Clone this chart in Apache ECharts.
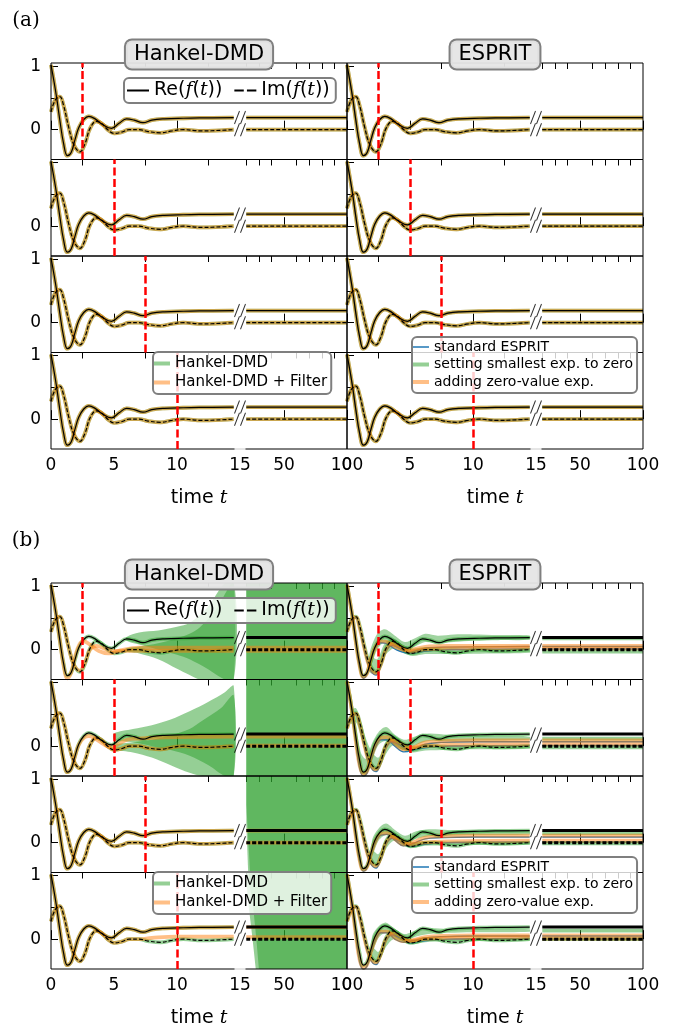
<!DOCTYPE html>
<html><head><meta charset="utf-8">
<script src="https://cdn.jsdelivr.net/npm/echarts@6/dist/echarts.min.js"></script>
<style>html,body{margin:0;padding:0;background:#fff}#c{width:676px;height:1027px}</style>
</head><body><div id="c"></div>
<script>
// ---------------- data ----------------
const Y_MIN = -0.47, Y_MAX = 1.05;
const X_LEFT_MAJOR = [0, 5, 10], X_LEFT_LABELS = [0, 5, 10, 15], X_LEFT_MINOR = [2.5, 7.5, 12.5];
const X_RIGHT_MAJOR = [50, 100], X_RIGHT_LABELS = [50, 100], X_RIGHT_MINOR = [20, 30, 40, 60, 70, 80, 90];
const Y_TICKS = [0, 0.5, 1];
const RED_T = [2.5, 5, 7.5, 10];
const T_RIGHT = [20, 100];

// exact f(t)
const RE = [[0,1.02],[0.2,0.8],[0.45,0.5],[0.7,0.15],[1.0,-0.22],[1.3,-0.41],[1.6,-0.36],[1.9,-0.16],[2.2,0.03],[2.6,0.16],[3.0,0.21],[3.5,0.17],[4.1,0.08],[4.8,0.02],[5.4,0.1],[6.0,0.17],[6.6,0.15],[7.3,0.11],[8.0,0.15],[9.0,0.17],[10.5,0.18],[12,0.185],[14.5,0.19]];
const IM = [[0,0.28],[0.35,0.47],[0.7,0.52],[1.0,0.38],[1.4,0.04],[1.8,-0.23],[2.3,-0.35],[2.7,-0.22],[3.1,0.02],[3.6,0.13],[4.0,0.1],[4.5,0.0],[5.0,-0.06],[5.6,-0.04],[6.2,0.0],[7.0,0.0],[7.7,-0.03],[8.7,-0.05],[9.6,-0.02],[10.5,0.0],[12,-0.02],[13.5,-0.01],[14.5,0.0]];
const RE_INF = 0.19, IM_INF = 0.0;

// (b) Hankel-DMD: envelopes of the diverging unfiltered reconstruction [t, low, high]
const BH_RE_BAND_1 = [[6,0.14,0.2],[7,0.08,0.27],[8.5,0.0,0.3],[10,-0.08,0.36],[11,-0.15,0.42],[12.4,-0.3,0.66],[13.8,-0.6,1.1],[14.5,-0.6,1.1]];
const BH_IM_BAND_1 = [[6,-0.03,0.02],[7,-0.06,0.05],[8.5,-0.15,0.1],[10,-0.3,0.18],[11,-0.4,0.25],[11.8,-0.6,0.35],[13,-0.6,0.6],[14.5,-0.6,1.1]];
const BH_RE_BAND_2 = [[5,0.1,0.2],[6.5,0.06,0.27],[8,0.0,0.33],[9.5,-0.06,0.42],[11,-0.15,0.55],[12.5,-0.3,0.7],[13.8,-0.47,0.85],[14.5,-0.6,0.95]];
const BH_IM_BAND_2 = [[5,-0.05,0.02],[6.5,-0.1,0.06],[8,-0.18,0.1],[9.5,-0.3,0.17],[11,-0.42,0.27],[12,-0.6,0.4],[13.5,-0.6,0.6],[14.5,-0.6,0.8]];
const BH_FULL_R = [[20,-0.6,1.1],[100,-0.6,1.1]];
const BH_RE_BAND_R3 = [[20,0.3,1.1],[21.5,-0.6,1.1],[100,-0.6,1.1]];
const BH_IM_BAND_R3 = [[20,0.6,1.1],[23,-0.6,1.1],[100,-0.6,1.1]];
const BH_RE_BAND_R4 = [[20,0.9,1.1],[22,0.5,1.1],[25,0.0,1.1],[27.5,-0.6,1.1],[100,-0.6,1.1]];
const BH_IM_BAND_R4 = [[22,0.9,1.1],[25,0.6,1.1],[28,0.0,1.1],[30,-0.6,1.1],[100,-0.6,1.1]];
// (b) Hankel-DMD + Filter
const BH_OR_RE_1 = [[0,1.02],[0.2,0.8],[0.45,0.5],[0.7,0.15],[1.0,-0.25],[1.3,-0.45],[1.6,-0.36],[1.9,-0.12],[2.25,0.08],[2.6,0.13],[3.1,0.08],[3.8,-0.02],[4.6,-0.06],[5.5,-0.01],[7,0.03],[14.5,0.03]];
const BH_OR_IM_1 = [[0,0.28],[0.35,0.47],[0.7,0.52],[1.0,0.38],[1.4,0.04],[1.8,-0.23],[2.3,-0.33],[2.7,-0.2],[3.1,0.0],[3.6,0.06],[4.2,0.02],[5,-0.02],[7,-0.02],[14.5,-0.02]];
const BH_OR_RE_2 = [[0,1.02],[0.2,0.8],[0.45,0.5],[0.7,0.15],[1.0,-0.22],[1.3,-0.41],[1.6,-0.36],[1.9,-0.16],[2.2,0.02],[2.6,0.13],[3.0,0.16],[3.5,0.12],[4.1,0.04],[4.8,-0.02],[5.4,0.04],[6.0,0.1],[7,0.12],[9,0.14],[14.5,0.15]];
const BH_OR_IM_4 = [[0,0.28],[0.35,0.47],[0.7,0.52],[1.0,0.38],[1.4,0.04],[1.8,-0.23],[2.3,-0.35],[2.7,-0.22],[3.1,0.02],[3.6,0.13],[4.0,0.1],[4.5,0.0],[5.0,-0.06],[5.6,-0.04],[6.2,0.0],[7.0,0.0],[8,0.02],[10,0.04],[14.5,0.04]];
const BH_OR_INF_RE = [0.03, 0.15, 0.19, 0.19];
const BH_OR_INF_IM = [-0.02, 0.01, 0.0, 0.03];

// (b) ESPRIT variants
const BE_BLUE_RE_1 = [[0,1.02],[0.2,0.8],[0.45,0.48],[0.7,0.1],[1.0,-0.28],[1.3,-0.45],[1.6,-0.38],[1.9,-0.15],[2.3,0.05],[2.7,0.11],[3.2,0.09],[3.9,0.0],[4.8,-0.05],[5.6,-0.01],[6.5,0.03],[8,0.04],[14.5,0.05]];
const BE_OR_RE_1 = [[0,1.02],[0.2,0.8],[0.45,0.49],[0.7,0.12],[1.0,-0.25],[1.3,-0.43],[1.6,-0.37],[1.9,-0.14],[2.3,0.06],[2.7,0.13],[3.2,0.12],[3.9,0.04],[4.8,-0.01],[5.6,0.02],[6.5,0.05],[8,0.06],[14.5,0.06]];
const BE_BLUE_RE_2 = [[0,1.02],[0.2,0.78],[0.45,0.45],[0.7,0.05],[1.0,-0.35],[1.3,-0.47],[1.6,-0.42],[1.9,-0.22],[2.3,0.0],[2.7,0.1],[3.2,0.1],[3.8,0.0],[4.5,-0.09],[5.3,-0.05],[6.2,0.03],[7.5,0.06],[10,0.07],[14.5,0.07]];
const BE_OR_RE_2 = [[0,1.02],[0.2,0.8],[0.45,0.47],[0.7,0.08],[1.0,-0.3],[1.3,-0.44],[1.6,-0.39],[1.9,-0.18],[2.3,0.03],[2.7,0.13],[3.2,0.14],[3.8,0.04],[4.5,-0.05],[5.3,-0.02],[6.2,0.06],[7.5,0.08],[10,0.09],[14.5,0.09]];
const BE_BLUE_RE_3 = [[0,1.02],[0.2,0.8],[0.45,0.47],[0.7,0.08],[1.0,-0.3],[1.3,-0.45],[1.6,-0.4],[1.9,-0.2],[2.3,0.02],[2.7,0.12],[3.2,0.13],[3.8,0.04],[4.5,-0.05],[5.3,-0.01],[6.2,0.06],[7.5,0.08],[10,0.09],[14.5,0.09]];
const BE_OR_RE_3 = [[0,1.02],[0.2,0.8],[0.45,0.48],[0.7,0.1],[1.0,-0.27],[1.3,-0.43],[1.6,-0.38],[1.9,-0.18],[2.3,0.04],[2.7,0.14],[3.2,0.15],[3.8,0.06],[4.5,-0.03],[5.3,0.01],[6.2,0.08],[7.5,0.1],[10,0.11],[14.5,0.11]];
const BE_BLUE_RE_4 = [[0,1.02],[0.2,0.78],[0.45,0.44],[0.7,0.04],[1.0,-0.36],[1.3,-0.47],[1.6,-0.42],[1.9,-0.22],[2.3,0.0],[2.7,0.1],[3.2,0.1],[3.8,0.0],[4.5,-0.05],[5.3,-0.02],[6.2,0.02],[7.5,0.04],[10,0.05],[14.5,0.05]];
const BE_OR_RE_4 = [[0,1.02],[0.2,0.79],[0.45,0.46],[0.7,0.07],[1.0,-0.32],[1.3,-0.45],[1.6,-0.4],[1.9,-0.2],[2.3,0.02],[2.7,0.12],[3.2,0.12],[3.8,0.02],[4.5,-0.03],[5.3,-0.01],[6.2,0.03],[7.5,0.05],[10,0.06],[14.5,0.06]];
const BE_BLUE_IM = [[0,0.28],[0.35,0.45],[0.7,0.5],[1.0,0.33],[1.4,-0.03],[1.8,-0.3],[2.3,-0.4],[2.7,-0.25],[3.1,-0.02],[3.6,0.07],[4.2,0.02],[5,-0.06],[6,-0.03],[8,0.0],[14.5,0.01]];
const BE_OR_IM = [[0,0.28],[0.35,0.46],[0.7,0.51],[1.0,0.35],[1.4,0.0],[1.8,-0.27],[2.3,-0.37],[2.7,-0.22],[3.1,0.0],[3.6,0.09],[4.2,0.05],[5,-0.03],[6,0.0],[8,0.02],[14.5,0.03]];
const BE_BLUE_INF_RE = [0.05, 0.07, 0.09, 0.05];
const BE_OR_INF_RE = [0.06, 0.09, 0.11, 0.06];
const BE_BLUE_INF_IM = [0.01, 0.01, 0.01, 0.0];
const BE_OR_INF_IM = [0.02, 0.03, 0.03, 0.01];
// "setting smallest exp. to zero": oscillating envelopes [t, low, high]
const BE_GR_RE_BAND_1 = [[1.8,-0.3,-0.05],[2.4,0.0,0.25],[3.0,0.12,0.32],[3.8,0.05,0.22],[4.6,-0.02,0.12],[5.4,0.05,0.18],[6.2,0.12,0.25],[7.2,0.1,0.22],[8.5,0.12,0.24],[10,0.14,0.24],[12,0.15,0.23],[14.5,0.16,0.22]];
const BE_GR_IM_BAND_1 = [[1.8,-0.35,-0.1],[2.4,-0.38,-0.15],[3.0,-0.1,0.1],[3.7,0.02,0.17],[4.4,-0.05,0.08],[5.2,-0.1,0.02],[6.2,-0.07,0.04],[7.5,-0.07,0.03],[9,-0.07,0.02],[11,-0.06,0.01],[14.5,-0.05,0.0]];
const BE_GR_RE_BAND_2 = [[0.3,0.55,0.85],[0.7,0.0,0.35],[1.1,-0.42,-0.1],[1.5,-0.45,-0.2],[2.0,-0.22,0.05],[2.5,0.02,0.22],[3.1,0.08,0.3],[3.8,0.0,0.18],[4.6,-0.06,0.1],[5.5,0.02,0.16],[6.5,0.08,0.2],[8,0.08,0.18],[10,0.09,0.17],[14.5,0.1,0.15]];
const BE_GR_IM_BAND_2 = [[0.3,0.35,0.55],[0.7,0.38,0.6],[1.1,0.15,0.4],[1.5,-0.12,0.12],[2.0,-0.35,-0.1],[2.5,-0.38,-0.18],[3.1,-0.12,0.06],[3.7,0.02,0.15],[4.4,-0.06,0.06],[5.2,-0.1,0.0],[6.2,-0.07,0.02],[8,-0.06,0.02],[10,-0.05,0.01],[14.5,-0.04,0.0]];
const BE_GR_RE_BAND_3 = [[2.0,-0.2,0.05],[2.5,0.03,0.22],[3.1,0.12,0.3],[3.8,0.05,0.2],[4.6,-0.01,0.11],[5.5,0.06,0.18],[6.5,0.1,0.21],[8,0.11,0.2],[10,0.12,0.19],[14.5,0.13,0.18]];
const BE_GR_IM_BAND_3 = [[2.0,-0.33,-0.12],[2.5,-0.36,-0.18],[3.1,-0.1,0.06],[3.7,0.03,0.15],[4.4,-0.04,0.07],[5.2,-0.08,0.01],[6.2,-0.05,0.02],[8,-0.04,0.02],[14.5,-0.03,0.01]];
const BE_GR_RE_BAND_4 = [[2.0,-0.2,0.05],[2.5,0.02,0.2],[3.1,0.1,0.26],[3.8,0.03,0.16],[4.6,-0.03,0.08],[5.5,0.04,0.14],[6.5,0.08,0.17],[8,0.1,0.16],[10,0.11,0.16],[14.5,0.115,0.155]];
const BE_GR_IM_BAND_4 = [[2.0,-0.33,-0.12],[2.5,-0.36,-0.2],[3.1,-0.12,0.04],[3.7,0.0,0.13],[4.4,-0.05,0.05],[5.2,-0.08,0.0],[6.2,-0.05,0.01],[8,-0.03,0.01],[14.5,-0.02,0.01]];
const BE_GR_INF_RE = [0.18, 0.12, 0.15, 0.135];
const BE_GR_INF_IM = [-0.03, -0.02, -0.01, 0.0];

// ---------------- layout ----------------
const COL_LEFT = [51, 347], COL_W = 296, SEG_W = 189, RIGHT_W = 107;
const PANEL_TOP = [63, 583], ROW_H = 96.5;
const GREEN = '#2ca02c', ORANGE = '#ff7f0e', BLUE = '#1f77b4';
const FONT = 'DejaVu Sans';
const BREAK_PATH = 'path://M0,13L5,0M6,13L11,0';

const grids = [], xAxes = [], yAxes = [], series = [];

function xaxis(g, min, max, ticks, len, labels) {
  return {gridIndex: g, type: 'value', min, max, axisLine: {show: false}, splitLine: {show: false},
    axisTick: {show: true, inside: true, length: len, customValues: ticks, lineStyle: {color: '#000', width: 1}},
    axisLabel: labels ? {show: true, customValues: labels, fontSize: 17, fontFamily: FONT, color: '#000', margin: 8} : {show: false}};
}
function seg(v) { return T_RIGHT.map(t => [t, v]); }
function ln(name, ax, data, color, width, opacity, dash, z, extra) {
  series.push(Object.assign({type: 'line', name, xAxisIndex: ax[0], yAxisIndex: ax[1], data, smooth: 0.4, symbol: 'none',
    silent: true, animation: false, z, emphasis: {disabled: true},
    lineStyle: {color, width, opacity, type: dash || 'solid', cap: 'butt'}}, extra || {}));
}
// envelope band drawn as one polygon through the axes' own coordinate mapping
function band(ax, pts, color, opacity, smooth) {
  series.push({type: 'custom', name: '_band', xAxisIndex: ax[0], yAxisIndex: ax[1], data: pts, silent: true, z: 1,
    animation: false, clip: true, encode: {x: 0, y: [1, 2]},
    renderItem: function (params, api) {
      if (params.dataIndex !== 0) return null;
      const cs = params.coordSys;
      const cy = y => Math.max(cs.y, Math.min(cs.y + cs.height, y));
      const up = pts.map(p => { const c = api.coord([p[0], p[2]]); return [c[0], cy(c[1])]; });
      const lo = pts.map(p => { const c = api.coord([p[0], p[1]]); return [c[0], cy(c[1])]; }).reverse();
      return {type: 'polygon', shape: {points: up.concat(lo), smooth: smooth}, style: {fill: color, opacity: opacity}};
    }});
}

function addSubplot(s) {
  const top = PANEL_TOP[s.p] + s.r * ROW_H, x0 = COL_LEFT[s.c], bottomRow = s.r === 3;
  const gL = grids.length; grids.push({left: x0, top, width: SEG_W, height: ROW_H});
  const gR = grids.length; grids.push({left: x0 + SEG_W, top, width: RIGHT_W, height: ROW_H});
  const gF = grids.length; grids.push({left: x0, top, width: COL_W, height: ROW_H, show: true, borderColor: '#000', borderWidth: 1, backgroundColor: 'transparent', z: 4});
  const xL = xAxes.length;
  xAxes.push(xaxis(gL, 0, 15, X_LEFT_MAJOR, 9, bottomRow ? X_LEFT_LABELS : null));
  xAxes.push(xaxis(gL, 0, 15, X_LEFT_MINOR, 6, null));
  const xR = xAxes.length;
  xAxes.push(xaxis(gR, 15, 100, X_RIGHT_MAJOR, 9, bottomRow ? X_RIGHT_LABELS : null));
  xAxes.push(xaxis(gR, 15, 100, X_RIGHT_MINOR, 6, null));
  xAxes.push({gridIndex: gF, type: 'value', show: false, min: 0, max: 1});
  const yL = yAxes.length;
  yAxes.push({gridIndex: gL, type: 'value', min: Y_MIN, max: Y_MAX, axisLine: {show: false}, splitLine: {show: false},
    axisTick: {show: true, inside: true, length: 7, customValues: Y_TICKS, lineStyle: {color: '#000'}},
    axisLabel: s.c === 0 ? {show: true, customValues: s.r === 1 ? [0] : [0, 1], fontSize: 17, fontFamily: FONT, color: '#000', margin: 10} : {show: false}});
  const yR = yAxes.length;
  yAxes.push({gridIndex: gR, type: 'value', min: Y_MIN, max: Y_MAX, show: false});
  yAxes.push({gridIndex: gF, type: 'value', show: false, min: 0, max: 1});
  const L = [xL, yL], R = [xR, yR];
  (s.bandsL || []).forEach(b => band(L, b, s.bandColor, s.bandOp, 0.3));
  (s.bandsR || []).forEach(b => band(R, b, s.bandColor, s.bandOp, 0));
  s.lines.forEach(o => {
    const extra = o.red ? {markLine: {silent: true, symbol: ['none', 'none'], label: {show: false}, animation: false,
      emphasis: {disabled: true}, lineStyle: {color: '#ff0000', width: 2.5, type: [8, 3.5]}, data: [{xAxis: RED_T[s.r]}]}} : null;
    ln(o.name, L, o.left, o.color, o.w, o.op, o.dash, o.z, extra);
    if (o.right !== null && o.right !== undefined) ln(o.name, R, seg(o.right), o.color, o.rw || o.w, o.op, o.dash, o.z);
  });
  series.push({type: 'scatter', xAxisIndex: xL, yAxisIndex: yL, data: [[15, s.breakRe], [15, s.breakIm]], symbol: BREAK_PATH,
    symbolSize: [11, 13], clip: false, z: 6, silent: true, animation: false,
    itemStyle: {color: 'rgba(0,0,0,0)', borderColor: '#000', borderWidth: 1.1}});
  if (bottomRow) {
    series.push({type: 'scatter', xAxisIndex: xL, yAxisIndex: yL, data: [[15, Y_MIN]], symbol: 'rect', symbolSize: [11, 3],
      clip: false, z: 6, silent: true, animation: false, itemStyle: {color: '#fff'}});
  }
}

const L_W = 3.8, L_OP = 0.5;
function black(left, right, rw) {
  return [
    {name: 'Re', color: '#000', w: 1.2, op: 1, z: 3, left: left[0], right: right[0], rw, red: true},
    {name: 'Im', color: '#000', w: 1.2, op: 1, z: 3, dash: [4, 2], left: left[1], right: right[1], rw}
  ];
}
function pair(name, color, w, op, z, re, im, reR, imR) {
  return [{name, color, w, op, z, left: re, right: reR}, {name, color, w, op, z, left: im, right: imR}];
}

// ---- panel (a) ----
for (let r = 0; r < 4; r++) {
  addSubplot({p: 0, c: 0, r, breakRe: RE_INF, breakIm: IM_INF,
    lines: [].concat(pair('Hankel-DMD', GREEN, L_W, L_OP, 2, RE, IM, RE_INF, IM_INF),
      pair('Hankel-DMD + Filter', ORANGE, L_W, L_OP, 2, RE, IM, RE_INF, IM_INF),
      black([RE, IM], [RE_INF, IM_INF]))});
  addSubplot({p: 0, c: 1, r, breakRe: RE_INF, breakIm: IM_INF,
    lines: [].concat(pair('standard ESPRIT', BLUE, 1.4, 1, 2, RE, IM, RE_INF, IM_INF),
      pair('setting smallest exp. to zero', GREEN, L_W, L_OP, 2, RE, IM, RE_INF, IM_INF),
      pair('adding zero-value exp.', ORANGE, L_W, L_OP, 2, RE, IM, RE_INF, IM_INF),
      black([RE, IM], [RE_INF, IM_INF]))});
}
// ---- panel (b) ----
const BH_BANDS_L = [[BH_RE_BAND_1, BH_IM_BAND_1], [BH_RE_BAND_2, BH_IM_BAND_2], [], []];
const BH_BANDS_R = [[BH_FULL_R, BH_FULL_R], [BH_FULL_R, BH_FULL_R], [BH_RE_BAND_R3, BH_IM_BAND_R3], [BH_RE_BAND_R4, BH_IM_BAND_R4]];
const BH_OR_RE = [BH_OR_RE_1, BH_OR_RE_2, RE, RE];
const BH_OR_IM = [BH_OR_IM_1, IM, IM, BH_OR_IM_4];
const BE_BLUE_RE = [BE_BLUE_RE_1, BE_BLUE_RE_2, BE_BLUE_RE_3, BE_BLUE_RE_4];
const BE_OR_RE = [BE_OR_RE_1, BE_OR_RE_2, BE_OR_RE_3, BE_OR_RE_4];
const BE_GR_BANDS = [[BE_GR_RE_BAND_1, BE_GR_IM_BAND_1], [BE_GR_RE_BAND_2, BE_GR_IM_BAND_2], [BE_GR_RE_BAND_3, BE_GR_IM_BAND_3], [BE_GR_RE_BAND_4, BE_GR_IM_BAND_4]];
for (let r = 0; r < 4; r++) {
  addSubplot({p: 1, c: 0, r, breakRe: RE_INF, breakIm: IM_INF, bandColor: GREEN, bandOp: 0.5,
    bandsL: BH_BANDS_L[r], bandsR: BH_BANDS_R[r],
    lines: [].concat(pair('Hankel-DMD', GREEN, L_W, L_OP, 2, RE, IM, null, null),
      pair('Hankel-DMD + Filter', ORANGE, L_W, L_OP, 2, BH_OR_RE[r], BH_OR_IM[r], BH_OR_INF_RE[r], BH_OR_INF_IM[r]),
      black([RE, IM], [RE_INF, IM_INF], 3))});
  addSubplot({p: 1, c: 1, r, breakRe: RE_INF, breakIm: IM_INF, bandColor: GREEN, bandOp: 0.45,
    bandsL: BE_GR_BANDS[r],
    lines: [].concat(pair('standard ESPRIT', BLUE, 1.4, 1, 2, BE_BLUE_RE[r], BE_BLUE_IM, BE_BLUE_INF_RE[r], BE_BLUE_INF_IM[r]),
      pair('setting smallest exp. to zero', GREEN, L_W, L_OP, 2, RE, IM, BE_GR_INF_RE[r], BE_GR_INF_IM[r]),
      pair('adding zero-value exp.', ORANGE, L_W, L_OP, 2, BE_OR_RE[r], BE_OR_IM, BE_OR_INF_RE[r], BE_OR_INF_IM[r]),
      black([RE, IM], [RE_INF, IM_INF], 3))});
}

// ---------------- legends ----------------
const ICON_SOLID = 'path://M0,0h22v2h-22z';
const ICON_DASH = 'path://M0,0h9v2h-9zM12,0h9v2h-9z';
const ICON_THICK = 'path://M0,0h16v4h-16z';
const ICON_THIN = 'path://M0,0h16v1.5h-16z';
const LEG_BOX = {backgroundColor: 'rgba(255,255,255,0.8)', borderColor: '#7f7f7f', borderWidth: 2, borderRadius: 5, selectedMode: false, z: 10};
const MATH = {n: {fontSize: 19, fontFamily: FONT, color: '#000'}, i: {fontSize: 19, fontFamily: 'DejaVu Serif', fontStyle: 'italic', color: '#000'}};
const legends = [];
[0, 520].forEach(dy => {
  legends.push(Object.assign({}, LEG_BOX, {left: 124, top: 78 + dy, orient: 'horizontal', itemWidth: 22, itemHeight: 14, itemGap: 12,
    padding: [3, 6, 3, 3],
    data: [{name: 'Re', icon: ICON_SOLID, itemStyle: {color: '#000', borderWidth: 0}}, {name: 'Im', icon: ICON_DASH, itemStyle: {color: '#000', borderWidth: 0}}],
    formatter: n => '{n|' + n + '(}{i|f}{n|(}{i|t}{n|))}',
    textStyle: {fontSize: 19, fontFamily: FONT, color: '#000', rich: MATH}}));
  legends.push(Object.assign({}, LEG_BOX, {left: 153, top: 352 + dy, orient: 'vertical', itemWidth: 16, itemHeight: 14, itemGap: 4,
    padding: [4, 4, 4, 1],
    data: [{name: 'Hankel-DMD', icon: ICON_THICK, itemStyle: {color: 'rgba(44,160,44,0.5)', borderWidth: 0}},
           {name: 'Hankel-DMD + Filter', icon: ICON_THICK, itemStyle: {color: 'rgba(255,127,14,0.5)', borderWidth: 0}}],
    textStyle: {fontSize: 15, fontFamily: FONT, color: '#000'}}));
  legends.push(Object.assign({}, LEG_BOX, {left: 412, top: 337 + dy, orient: 'vertical', itemWidth: 16, itemHeight: 14, itemGap: 3.5,
    padding: [3, 4, 4, 1],
    data: [{name: 'standard ESPRIT', icon: ICON_THIN, itemStyle: {color: BLUE, borderWidth: 0}},
           {name: 'setting smallest exp. to zero', icon: ICON_THICK, itemStyle: {color: 'rgba(44,160,44,0.5)', borderWidth: 0}},
           {name: 'adding zero-value exp.', icon: ICON_THICK, itemStyle: {color: 'rgba(255,127,14,0.5)', borderWidth: 0}}],
    textStyle: {fontSize: 14, fontFamily: FONT, color: '#000'}}));
});

// ---------------- texts ----------------
const graphic = [];
function gtext(x, y, text, style) {
  graphic.push({type: 'text', x, y, z: 20, silent: true,
    style: Object.assign({text, align: 'center', verticalAlign: 'middle', fill: '#000', fontFamily: FONT}, style)});
}
const TITLE_STYLE = {fontSize: 21, backgroundColor: 'rgba(229,229,229,0.95)', borderColor: '#7f7f7f', borderWidth: 2, borderRadius: 6, padding: [4, 8, 3, 8]};
const TIME_STYLE = {fontSize: 19, rich: MATH};
[0, 520].forEach((dy, p) => {
  gtext(26, 21 + dy, p === 0 ? '(a)' : '(b)', {fontFamily: 'DejaVu Serif', fontSize: 20});
  gtext(199, 54.5 + dy, 'Hankel-DMD', TITLE_STYLE);
  gtext(495, 54.5 + dy, 'ESPRIT', TITLE_STYLE);
  gtext(199, 498 + dy, '{n|time }{i|t}', TIME_STYLE);
  gtext(495, 498 + dy, '{n|time }{i|t}', TIME_STYLE);
});

const chart = echarts.init(document.getElementById('c'), null, {renderer: 'canvas'});
chart.setOption({
  animation: false,
  backgroundColor: '#fff',
  textStyle: {fontFamily: FONT},
  grid: grids, xAxis: xAxes, yAxis: yAxes, series, legend: legends, graphic
});
</script></body></html>
